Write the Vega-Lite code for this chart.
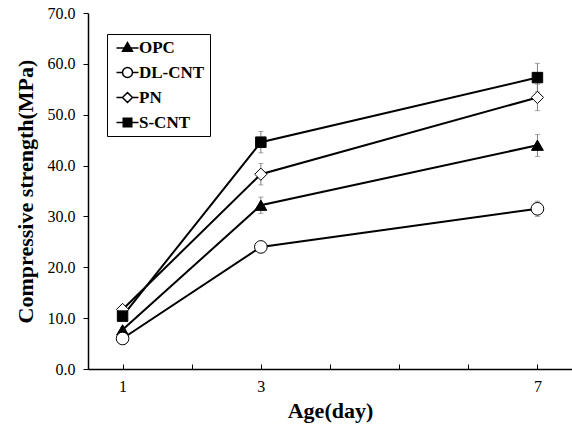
{
  "$schema": "https://vega.github.io/schema/vega-lite/v6.json",
  "width": 484,
  "height": 356,
  "autosize": {"type": "none"},
  "padding": {"left": 88, "top": 13, "right": 0, "bottom": 59},
  "background": "white",
  "config": {
    "view": {"stroke": null},
    "font": "Liberation Serif",
    "axis": {"labelFont": "Liberation Serif", "titleFont": "Liberation Serif", "domainColor": "black", "tickColor": "black", "labelColor": "black", "titleColor": "black", "grid": false, "domainWidth": 1.5, "tickWidth": 1}
  },
  "data": {
    "values": [
      {"day": 1, "series": "OPC", "value": 7.7, "lo": 7.2, "hi": 8.2},
      {"day": 3, "series": "OPC", "value": 32.2, "lo": 30.6, "hi": 33.8},
      {"day": 7, "series": "OPC", "value": 44.0, "lo": 41.8, "hi": 46.1},
      {"day": 1, "series": "DL-CNT", "value": 6.0, "lo": 5.5, "hi": 6.5},
      {"day": 3, "series": "DL-CNT", "value": 24.0, "lo": 23.5, "hi": 24.5},
      {"day": 7, "series": "DL-CNT", "value": 31.5, "lo": 30.0, "hi": 33.0},
      {"day": 1, "series": "PN", "value": 11.7, "lo": 11.2, "hi": 12.2},
      {"day": 3, "series": "PN", "value": 38.3, "lo": 36.2, "hi": 40.4},
      {"day": 7, "series": "PN", "value": 53.4, "lo": 50.8, "hi": 56.0},
      {"day": 1, "series": "S-CNT", "value": 10.4, "lo": 9.9, "hi": 10.9},
      {"day": 3, "series": "S-CNT", "value": 44.6, "lo": 42.5, "hi": 46.7},
      {"day": 7, "series": "S-CNT", "value": 57.3, "lo": 54.5, "hi": 60.1}
    ]
  },
  "encoding": {
    "x": {
      "field": "day", "type": "quantitative",
      "scale": {"domain": [0.5, 7.5], "nice": false, "zero": false},
      "axis": {"title": "Age(day)", "values": [1, 2, 3, 4, 5, 6, 7], "labelExpr": "datum.value == 1 || datum.value == 3 || datum.value == 7 ? datum.label : ''", "tickSize": -5, "labelPadding": 14, "labelFontSize": 16, "titleFontSize": 22, "titleFontWeight": "bold", "titlePadding": 6}
    },
    "y": {
      "field": "value", "type": "quantitative",
      "scale": {"domain": [0, 70], "nice": false},
      "axis": {"title": "Compressive strength(MPa)", "values": [0, 10, 20, 30, 40, 50, 60, 70], "format": ".1f", "tickSize": 5, "labelPadding": 8, "labelFontSize": 16, "titleFontSize": 22, "titleFontWeight": "bold", "titlePadding": 10}
    }
  },
  "layer": [
    {
      "mark": {"type": "errorbar", "ticks": true, "color": "#808080", "thickness": 1},
      "encoding": {
        "y": {"field": "lo", "type": "quantitative", "title": "Compressive strength(MPa)"},
        "y2": {"field": "hi"}
      }
    },
    {
      "mark": {"type": "line", "color": "black", "strokeWidth": 2},
      "encoding": {"detail": {"field": "series", "type": "nominal"}}
    },
    {
      "transform": [{"filter": "datum.series == 'OPC'"}],
      "mark": {"type": "point", "shape": "triangle-up", "filled": true, "fill": "black", "stroke": "black", "strokeWidth": 1, "size": 140, "opacity": 1}
    },
    {
      "transform": [{"filter": "datum.series == 'DL-CNT'"}],
      "mark": {"type": "point", "shape": "circle", "filled": true, "fill": "white", "stroke": "black", "strokeWidth": 1, "size": 160, "opacity": 1}
    },
    {
      "transform": [{"filter": "datum.series == 'PN'"}],
      "mark": {"type": "point", "shape": "diamond", "filled": true, "fill": "white", "stroke": "black", "strokeWidth": 1, "size": 150, "opacity": 1}
    },
    {
      "transform": [{"filter": "datum.series == 'S-CNT'"}],
      "mark": {"type": "point", "shape": "square", "filled": true, "fill": "black", "stroke": "black", "strokeWidth": 1, "size": 110, "opacity": 1}
    },
    {
      "mark": {"type": "point", "filled": true, "stroke": "black", "strokeWidth": 1.5, "size": 121, "opacity": 0},
      "encoding": {
        "shape": {
          "field": "series", "type": "nominal",
          "scale": {"domain": ["OPC", "DL-CNT", "PN", "S-CNT"], "range": [
            "M-2.2,0.1H2.2M0,-1L1,0.75L-1,0.75Z",
            "M-2.2,0H-1M1,0H2.2M-1,0A1,1 0 1,0 1,0A1,1 0 1,0 -1,0Z",
            "M-2.2,0H-1M1,0H2.2M0,-1L1,0L0,1L-1,0Z",
            "M-2.2,0H2.2M-0.85,-0.85H0.85V0.85H-0.85Z"
          ]},
          "legend": {
            "title": null, "orient": "none", "legendX": 19, "legendY": 21,
            "strokeColor": "black", "fillColor": "white", "padding": 5,
            "symbolOffset": 7, "labelOffset": 3, "rowPadding": 7,
            "labelFont": "Liberation Serif", "labelFontSize": 17, "labelFontWeight": "bold", "labelColor": "black",
            "symbolOpacity": 1,
            "encode": {"symbols": {"update": {"opacity": {"value": 1}, "strokeWidth": {"value": 1.5}}}}
          }
        },
        "fill": {
          "field": "series", "type": "nominal",
          "scale": {"domain": ["OPC", "DL-CNT", "PN", "S-CNT"], "range": ["black", "white", "white", "black"]},
          "legend": {
            "title": null, "orient": "none", "legendX": 19, "legendY": 21,
            "strokeColor": "black", "fillColor": "white", "padding": 5,
            "symbolOffset": 7, "labelOffset": 3, "rowPadding": 7,
            "labelFont": "Liberation Serif", "labelFontSize": 17, "labelFontWeight": "bold", "labelColor": "black",
            "symbolOpacity": 1,
            "encode": {"symbols": {"update": {"opacity": {"value": 1}, "strokeWidth": {"value": 1.5}}}}
          }
        }
      }
    }
  ]
}
